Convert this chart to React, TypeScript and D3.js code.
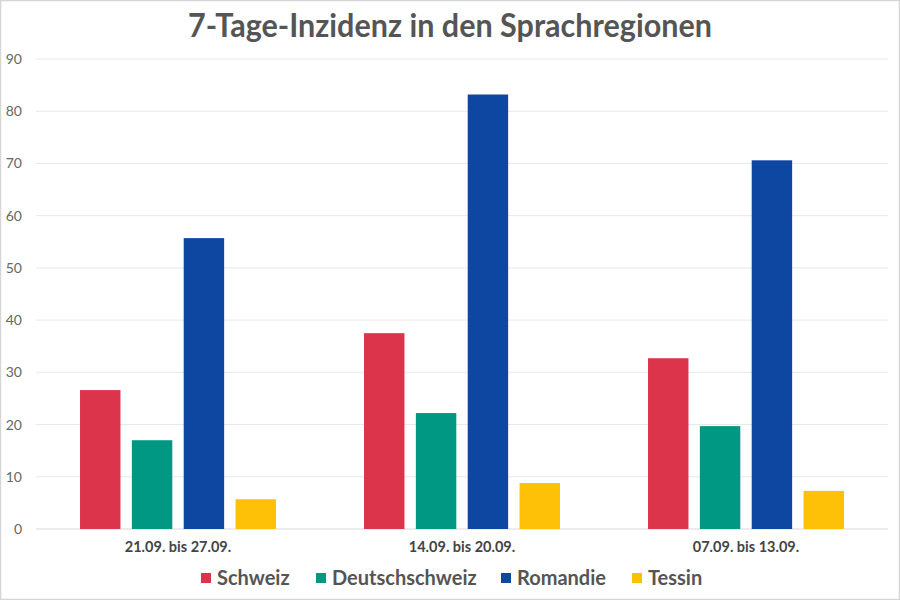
import React from "react";
import * as d3 from "d3";

const categories = ["21.09. bis 27.09.", "14.09. bis 20.09.", "07.09. bis 13.09."];
const seriesNames = ["Schweiz", "Deutschschweiz", "Romandie", "Tessin"];
const seriesColors = ["#DC354B", "#009882", "#0D47A1", "#FFC107"];
const schweiz = [26.6, 37.5, 32.7];
const deutschschweiz = [17.0, 22.2, 19.7];
const romandie = [55.7, 83.2, 70.6];
const tessin = [5.7, 8.8, 7.3];
const yTicks = [0, 10, 20, 30, 40, 50, 60, 70, 80, 90];
const title = "7-Tage-Inzidenz in den Sprachregionen";

const seriesValues = [schweiz, deutschschweiz, romandie, tessin];

export default function App() {
  const W = 900, H = 600;
  const left = 36, right = 888, top = 59, bottom = 529;
  const x0 = d3.scaleBand<string>().domain(categories).range([left, right]).paddingInner(0.31).paddingOuter(0.155);
  const x1 = d3.scaleBand<string>().domain(seriesNames).range([0, x0.bandwidth()]).paddingInner(0.22);
  const y = d3.scaleLinear().domain([0, 90]).range([bottom, top]);
  const font = "Lato, 'Open Sans', sans-serif";

  const legendX = [201, 316, 501, 632];

  return (
    <svg width={W} height={H} style={{ position: "absolute", left: 0, top: 0, display: "block" }} fontFamily={font}>
      <rect x={0} y={0} width={W} height={H} fill="#fff" />
      <rect x={0.5} y={0.5} width={W - 1} height={H - 1} fill="none" stroke="#d6d6d6" strokeWidth={1.5} />
      <text x={450} y={37} textAnchor="middle" fontSize={32} fontWeight={700} fill="#555" textLength={524} lengthAdjust="spacingAndGlyphs">{title}</text>
      {yTicks.map((t) => (
        <g key={t}>
          <line x1={left} x2={right} y1={y(t)} y2={y(t)} stroke={t === 0 ? "#d9d9d9" : "#e8e8e8"} strokeWidth={1} />
          <text x={22} y={y(t) + 5} textAnchor="end" fontSize={14} fill="#666">{t}</text>
        </g>
      ))}
      {categories.map((c, ci) => (
        <g key={c}>
          {seriesNames.map((s, si) => {
            const v = seriesValues[si][ci];
            const bx = (x0(c) as number) + (x1(s) as number);
            return <rect key={s} x={bx} y={y(v)} width={x1.bandwidth()} height={y(0) - y(v)} fill={seriesColors[si]} />;
          })}
          <text x={(x0(c) as number) + x0.bandwidth() / 2} y={552} textAnchor="middle" fontSize={14.5} fontWeight={700} fill="#444">{c}</text>
        </g>
      ))}
      {seriesNames.map((s, si) => (
        <g key={s}>
          <rect x={legendX[si]} y={573} width={10} height={10} fill={seriesColors[si]} />
          <text x={legendX[si] + 16} y={585} fontSize={20} fontWeight={700} fill="#555">{s}</text>
        </g>
      ))}
    </svg>
  );
}
